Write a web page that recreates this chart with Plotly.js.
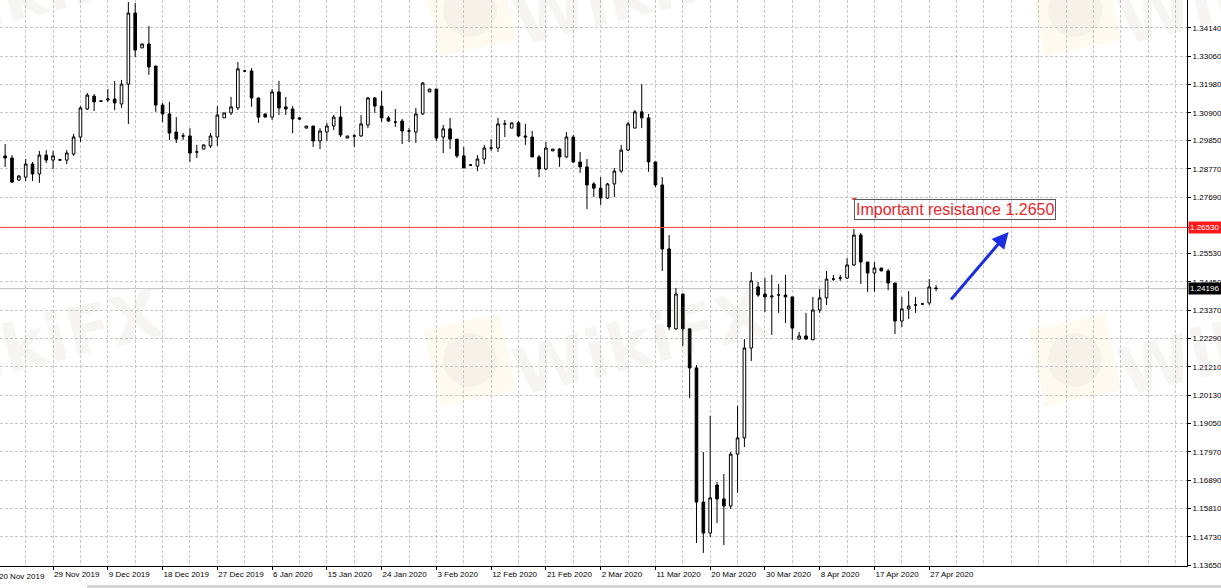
<!DOCTYPE html>
<html><head><meta charset="utf-8">
<script src="https://cdn.plot.ly/plotly-3.0.1.min.js"></script>
<style>html,body{margin:0;padding:0;background:#fff;overflow:hidden}</style>
</head><body><div id="chart" style="width:1221px;height:588px"></div>
<script>
// GBPUSD daily (broker bars incl. Sunday), 20 Nov 2019 .. 28 Apr 2020
const openP = [
1.2926,1.2926,1.2918,1.2834,1.2845,1.2895,1.2857,1.2929,1.2910,1.2910,
1.2910,1.2933,1.2998,1.3105,1.3154,1.3135,1.3139,1.3143,1.3124,1.3200,
1.3471,1.3338,1.3353,1.3269,1.3120,1.3086,1.3017,1.3002,1.3002,1.2941,
1.2952,1.2964,1.2998,1.3071,1.3090,1.3109,1.3250,1.3250,1.3147,1.3086,
1.3074,1.3170,1.3113,1.3105,1.3071,1.3032,1.3040,1.2983,1.3017,1.3040,
1.3074,1.2994,1.3002,1.3002,1.3044,1.3147,1.3116,1.3071,1.3055,1.3059,
1.3021,1.3017,1.3086,1.3170,1.3181,1.2998,1.3029,1.2990,1.2926,1.2891,
1.2887,1.2914,1.2956,1.2956,1.3048,1.3032,1.3052,1.3002,1.2998,1.2922,
1.2876,1.2945,1.2952,1.2922,1.2998,1.2903,1.2884,1.2819,1.2803,1.2765,
1.2819,1.2868,1.2948,1.3032,1.3094,1.3071,1.2903,1.2815,1.2571,1.2266,
1.2399,1.2266,1.2117,1.1605,1.1487,1.1670,1.1617,1.1590,1.1788,1.1850,
1.2193,1.2426,1.2399,1.2388,1.2395,1.2395,1.2388,1.2227,1.2239,1.2224,
1.2338,1.2384,1.2456,1.2460,1.2460,1.2510,1.2624,1.2521,1.2479,1.2498,
1.2487,1.2441,1.2296,1.2342,1.2357,1.2361,1.2365,1.2422];
const highP = [
1.2933,1.2971,1.2929,1.2853,1.2914,1.2903,1.2945,1.2948,1.2945,1.2914,
1.2948,1.3010,1.3116,1.3166,1.3162,1.3139,1.3181,1.3212,1.3216,1.3513,
1.3509,1.3353,1.3422,1.3269,1.3128,1.3132,1.3074,1.3013,1.3032,1.2968,
1.2968,1.3013,1.3116,1.3090,1.3151,1.3284,1.3254,1.3261,1.3147,1.3086,
1.3181,1.3212,1.3151,1.3116,1.3074,1.3040,1.3040,1.3032,1.3052,1.3082,
1.3116,1.3002,1.3010,1.3082,1.3151,1.3151,1.3174,1.3078,1.3105,1.3067,
1.3032,1.3109,1.3208,1.3181,1.3181,1.3044,1.3071,1.2990,1.2960,1.2895,
1.2929,1.2968,1.2990,1.3071,1.3063,1.3052,1.3059,1.3048,1.3021,1.2929,
1.2979,1.2952,1.2956,1.3017,1.3006,1.2941,1.2914,1.2826,1.2845,1.2823,
1.2880,1.2968,1.3055,1.3101,1.3200,1.3086,1.2903,1.2845,1.2624,1.2422,
1.2399,1.2266,1.2128,1.1796,1.1934,1.1682,1.1712,1.1796,1.1972,1.2227,
1.2483,1.2445,1.2460,1.2472,1.2437,1.2472,1.2388,1.2254,1.2327,1.2388,
1.2418,1.2487,1.2472,1.2472,1.2536,1.2647,1.2632,1.2521,1.2521,1.2498,
1.2494,1.2441,1.2388,1.2410,1.2388,1.2365,1.2456,1.2433];
const lowP = [
1.2918,1.2884,1.2823,1.2830,1.2830,1.2830,1.2823,1.2899,1.2876,1.2907,
1.2895,1.2926,1.2979,1.3101,1.3097,1.3132,1.3132,1.3101,1.3109,1.3048,
1.3303,1.3338,1.3235,1.3094,1.3055,1.2987,1.2975,1.2987,1.2903,1.2918,
1.2952,1.2956,1.2964,1.3071,1.3082,1.3101,1.3246,1.3113,1.3052,1.3074,
1.3063,1.3082,1.3082,1.3013,1.3063,1.3032,1.2960,1.2952,1.2983,1.3025,
1.2998,1.2994,1.2960,1.2998,1.3032,1.3090,1.3055,1.3055,1.3036,1.2971,
1.2979,1.2975,1.3082,1.3170,1.2983,1.2937,1.2952,1.2918,1.2880,1.2887,
1.2868,1.2895,1.2945,1.2941,1.2998,1.3032,1.2998,1.2968,1.2922,1.2845,
1.2872,1.2945,1.2884,1.2918,1.2899,1.2861,1.2723,1.2769,1.2739,1.2761,
1.2769,1.2861,1.2945,1.3032,1.3032,1.2865,1.2807,1.2487,1.2262,1.2262,
1.2201,1.2002,1.1449,1.1411,1.1472,1.1525,1.1441,1.1579,1.1640,1.1815,
1.2143,1.2388,1.2330,1.2243,1.2327,1.2288,1.2224,1.2224,1.2224,1.2224,
1.2327,1.2357,1.2449,1.2449,1.2456,1.2506,1.2437,1.2407,1.2407,1.2487,
1.2414,1.2246,1.2273,1.2304,1.2327,1.2357,1.2357,1.2410];
const closeP = [
1.2922,1.2918,1.2826,1.2849,1.2895,1.2857,1.2929,1.2910,1.2926,1.2911,
1.2937,1.2998,1.3109,1.3158,1.3132,1.3135,1.3143,1.3128,1.3200,1.3471,
1.3330,1.3353,1.3265,1.3120,1.3086,1.3013,1.2990,1.3002,1.2937,1.2941,
1.2968,1.3002,1.3082,1.3090,1.3113,1.3258,1.3250,1.3147,1.3074,1.3074,
1.3170,1.3109,1.3105,1.3067,1.3067,1.3040,1.2983,1.3021,1.3040,1.3074,
1.3006,1.3002,1.3002,1.3048,1.3147,1.3116,1.3071,1.3059,1.3055,1.3021,
1.3021,1.3086,1.3204,1.3181,1.2994,1.3029,1.2990,1.2926,1.2880,1.2891,
1.2914,1.2956,1.2956,1.3048,1.3048,1.3052,1.3002,1.2998,1.2922,1.2876,
1.2956,1.2952,1.2922,1.2998,1.2903,1.2884,1.2815,1.2803,1.2765,1.2819,
1.2868,1.2948,1.3048,1.3094,1.3071,1.2903,1.2815,1.2571,1.2273,1.2399,
1.2266,1.2117,1.1605,1.1487,1.1621,1.1617,1.1590,1.1788,1.1850,1.2193,
1.2449,1.2395,1.2388,1.2391,1.2395,1.2388,1.2269,1.2239,1.2227,1.2338,
1.2384,1.2456,1.2456,1.2460,1.2510,1.2624,1.2521,1.2479,1.2498,1.2487,
1.2441,1.2296,1.2342,1.2353,1.2357,1.2361,1.2426,1.2420];

// date labels (bar index -> label)
const dateTickIdx = [8,16,24,32,40,48,56,64,72,80,88,96,104,112,120,128,136];
const dateTickText = ["29 Nov 2019","9 Dec 2019","18 Dec 2019","27 Dec 2019","6 Jan 2020",
  "15 Jan 2020","24 Jan 2020","3 Feb 2020","12 Feb 2020","21 Feb 2020","2 Mar 2020",
  "11 Mar 2020","20 Mar 2020","30 Mar 2020","8 Apr 2020","17 Apr 2020","27 Apr 2020"];
const firstDateLabel = "20 Nov 2019";

// price axis ticks
const priceTicks = [1.1365,1.1473,1.1581,1.1689,1.1797,1.1905,1.2013,1.2121,1.2229,1.2337,
  1.2445,1.2553,1.2653,1.2769,1.2877,1.2985,1.3090,1.3198,1.3306,1.3414];
const topCutTick = 1.3522;

const resistanceLevel = 1.2653;
const bidPrice = 1.24196;
const resistanceText = "Important resistance 1.2650";

const barIdx = openP.map((_, i) => i);

const PW = 1187, PH = 566; // plot area in px
const px = v => v / PW, py = v => 1 - v / PH;
const axisFont = {family: 'Tahoma, "Liberation Sans", Arial, sans-serif', size: 8, color: '#000'};
const gridCol = '#c6c6c6';

const annotations = [];
const shapes = [];

// watermarks
const wmText = [[640,343],[35,343],[1245,343],[640,-7],[35,-7],[1245,-7]];
wmText.forEach(([x,y]) => annotations.push({
  xref:'paper', yref:'paper', x:px(x), y:py(y), xanchor:'center', yanchor:'middle',
  text:'<b>WikiFX</b>', showarrow:false, textangle:-14,
  font:{family:'"DejaVu Sans", sans-serif', size:66, color:'rgba(150,140,130,0.09)'}
}));
const wmLogo = [[470,360],[1075,360],[470,10],[1075,10]];
wmLogo.forEach(([cx,cy]) => {
  const s = 39, a = -12*Math.PI/180;
  const pts = [[-s,-s],[s,-s],[s,s],[-s,s]].map(([dx,dy]) =>
    [cx + dx*Math.cos(a) - dy*Math.sin(a), cy + dx*Math.sin(a) + dy*Math.cos(a)]);
  shapes.push({type:'path', xref:'paper', yref:'paper', layer:'below',
    path: 'M' + pts.map(p => px(p[0]) + ',' + py(p[1])).join('L') + 'Z',
    fillcolor:'rgba(250,222,150,0.14)', line:{width:0}});
  shapes.push({type:'circle', xref:'paper', yref:'paper', layer:'below',
    x0:px(cx-27), x1:px(cx+27), y0:py(cy+27), y1:py(cy-27),
    fillcolor:'rgba(150,145,140,0.07)', line:{width:0}});
});

// resistance line and bid line
shapes.push({type:'line', xref:'paper', x0:0, x1:1, yref:'y', y0:resistanceLevel, y1:resistanceLevel,
  line:{color:'#ff3b3b', width:1}, layer:'above'});
shapes.push({type:'line', xref:'paper', x0:0, x1:1, yref:'y', y0:bidPrice, y1:bidPrice,
  line:{color:'#c0c0c0', width:1}, layer:'between'});
// bottom tab strip
shapes.push({type:'rect', xref:'paper', yref:'paper', x0:px(87), x1:px(1221), y0:py(588), y1:py(585),
  fillcolor:'#d6d6d6', line:{width:0}});

// price labels on the axis
annotations.push({xref:'paper', x:1, xanchor:'left', xshift:1, yref:'y', y:resistanceLevel, yanchor:'middle',
  text:resistanceLevel.toFixed(5), showarrow:false, bgcolor:'#ff1a1a', borderpad:1,
  font:{family:axisFont.family, size:8, color:'#fff'}, width:31, align:'left'});
annotations.push({xref:'paper', x:1, xanchor:'left', xshift:1, yref:'y', y:bidPrice, yanchor:'middle',
  text:bidPrice.toFixed(5), showarrow:false, bgcolor:'#000', borderpad:1,
  font:{family:axisFont.family, size:8, color:'#fff'}, width:31, align:'left'});
annotations.push({xref:'paper', x:1, xanchor:'left', xshift:4, yref:'y', y:topCutTick, yanchor:'middle',
  text:topCutTick.toFixed(5), showarrow:false, font:axisFont});
annotations.push({xref:'paper', x:px(-3), xanchor:'left', yref:'paper', y:0, yanchor:'top', yshift:-4,
  text:firstDateLabel, showarrow:false, font:axisFont});

// text object and arrow
annotations.push({xref:'x', x:125, xanchor:'left', yref:'y', y:1.2761, yanchor:'top', yshift:0,
  text:resistanceText, showarrow:false, bordercolor:'#5a5a5a', borderwidth:1, borderpad:1,
  font:{family:'"Liberation Sans", Arial, sans-serif', size:16, color:'#e8262b'}});
shapes.push({type:'rect', xref:'x', yref:'y', x0:124.8, x1:125.3, y0:1.2760, y1:1.2764,
  line:{color:'#e8262b', width:1}});
annotations.push({xref:'x', yref:'y', x:147.6, y:1.2636, axref:'x', ayref:'y', ax:139, ay:1.2372,
  text:'', showarrow:true, arrowhead:2, arrowsize:1.1, arrowwidth:3, arrowcolor:'#1a2de0', standoff:0});

const trace = {
  type:'candlestick', x:barIdx, open:openP, high:highP, low:lowP, close:closeP,
  line:{width:1},
  increasing:{line:{color:'#000', width:1}, fillcolor:'#ffffff'},
  decreasing:{line:{color:'#000', width:1}, fillcolor:'#000000'},
  whiskerwidth:0, hoverinfo:'skip', showlegend:false
};

const layout = {
  width:1221, height:588, margin:{l:0, r:34, t:0, b:22, pad:0},
  paper_bgcolor:'#fff', plot_bgcolor:'#fff', showlegend:false, boxgap:0.45,
  xaxis:{
    range:[0.248, 173.66], rangeslider:{visible:false}, fixedrange:true,
    tickmode:'array', tickvals:dateTickIdx, ticktext:dateTickText, tickangle:0,
    ticks:'outside', ticklen:3, tickcolor:'#000', tickwidth:1,
    ticklabelposition:'outside right', tickfont:axisFont,
    showline:true, linecolor:'#000', linewidth:1, zeroline:false,
    showgrid:true, gridcolor:gridCol, gridwidth:1, griddash:'3px,2px',
    minor:{tickmode:'linear', tick0:0, dtick:4, showgrid:true, gridcolor:gridCol, gridwidth:1, griddash:'3px,2px', ticks:''}
  },
  yaxis:{
    side:'right', range:[1.13612, 1.35208], fixedrange:true,
    tickmode:'array', tickvals:priceTicks,
    ticktext:priceTicks.map(v => v === resistanceLevel ? '' : v.toFixed(5)),
    ticks:'outside', ticklen:3, tickcolor:'#000', tickwidth:1, tickfont:axisFont,
    showline:true, linecolor:'#000', linewidth:1, zeroline:false,
    showgrid:true, gridcolor:gridCol, gridwidth:1, griddash:'3px,2px'
  },
  shapes:shapes, annotations:annotations
};

Plotly.newPlot('chart', [trace], layout, {displayModeBar:false, staticPlot:true});
</script></body></html>
